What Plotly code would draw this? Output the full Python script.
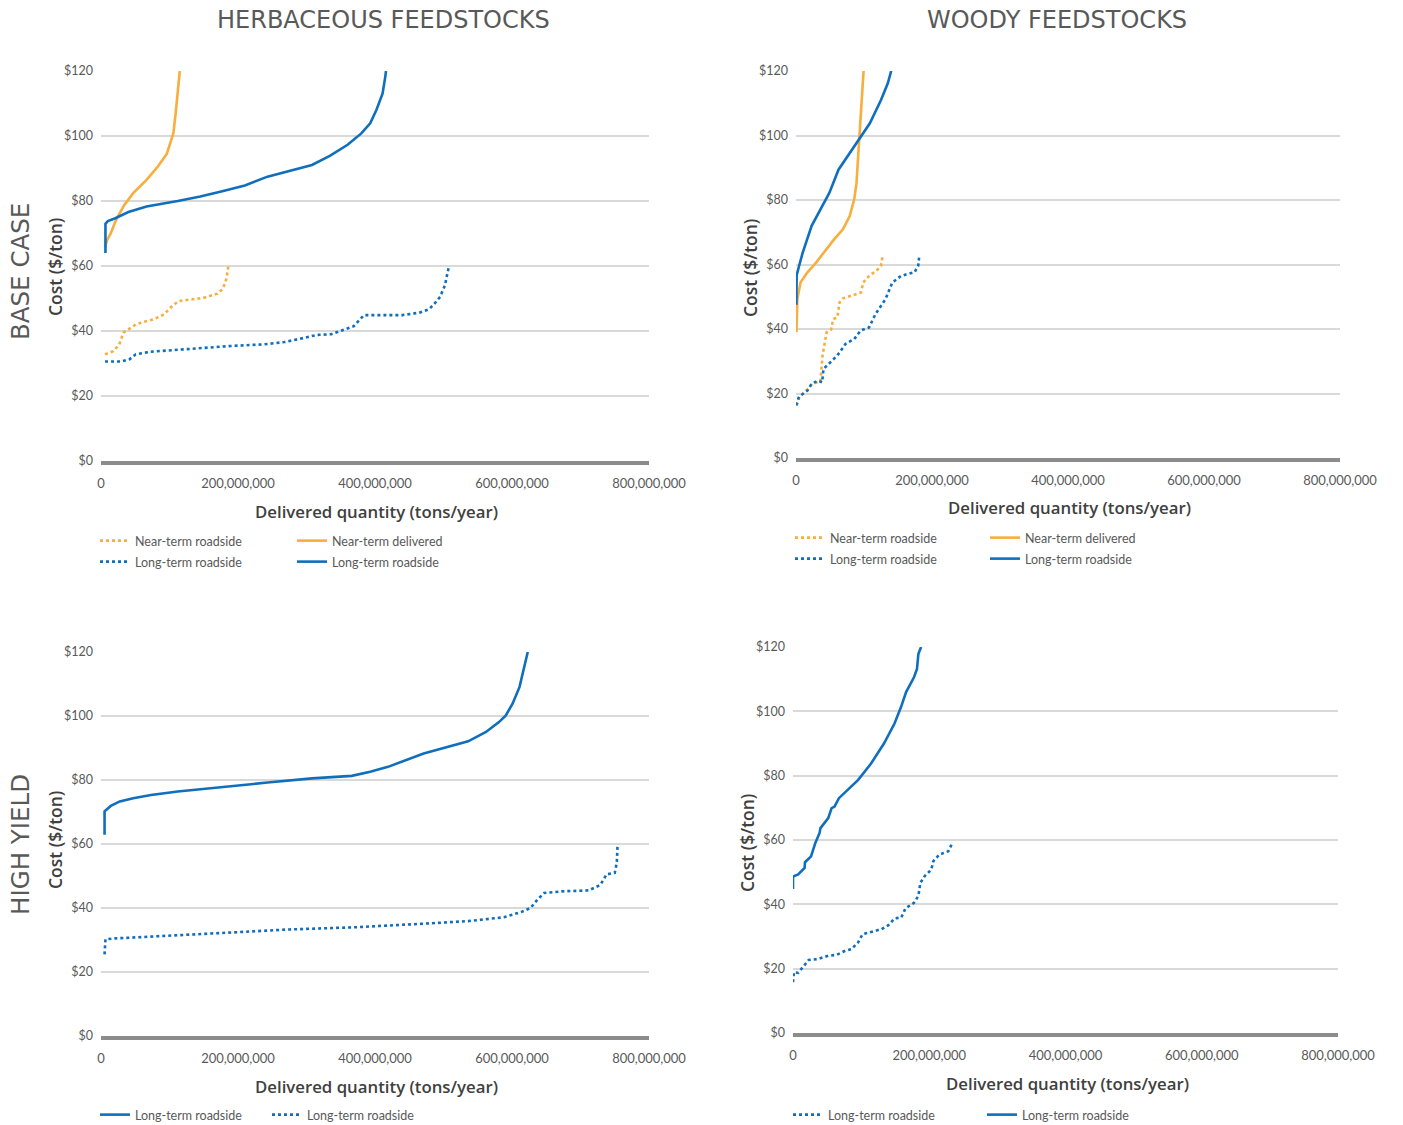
import plotly.graph_objects as go

# ---------------- DATA (quantities in million tons/year, cost in $/ton) ----------------
# Herbaceous - base case
hb_near_deliv_q = [5.8, 9, 14.3, 22, 34, 47, 66.5, 83, 96, 105.6, 109, 112, 115]
hb_near_deliv_c = [65.8, 68, 70.1, 74.2, 78.8, 82.4, 86.5, 90.6, 94.5, 100.8, 107, 114.2, 120]

hb_long_deliv_q = [6.5, 6.5, 10, 20.9, 40, 66.5, 112, 145, 177, 210, 243, 275, 308, 334, 360, 380, 393, 402, 411, 415, 416]
hb_long_deliv_c = [64, 73, 73.8, 74.7, 76.6, 78.3, 80, 81.4, 83, 84.8, 87.5, 89.3, 91.1, 93.9, 97.3, 100.8, 103.9, 108, 113, 118.2, 120]

hb_near_road_q = [5.9, 17.8, 26.8, 32.7, 38.7, 50.6, 62.5, 77, 92, 104, 113, 131, 150, 170, 178, 183, 186]
hb_near_road_c = [32.8, 33.8, 35.9, 39.5, 40.3, 42, 42.8, 43.6, 45.1, 47.7, 49.2, 49.7, 50.2, 51.5, 53, 56, 60]

hb_long_road_q = [5.9, 29.7, 41.6, 50.6, 71, 113, 149, 190, 238, 268, 297, 315, 336, 351, 369, 384, 404, 440, 464, 479, 488, 495, 502, 508]
hb_long_road_c = [30.6, 30.6, 31.3, 32.8, 33.6, 34.2, 34.9, 35.4, 35.9, 36.6, 37.9, 38.8, 39, 40.2, 41.5, 44.9, 44.9, 44.9, 45.6, 46.7, 48.7, 50.5, 54, 60]

# Woody - base case
wb_near_deliv_q = [0.6, 1, 2, 6.6, 16.5, 29.6, 42.8, 56, 69, 79, 85.6, 89, 92, 95.5, 99.4]
wb_near_deliv_c = [39, 45, 49.3, 54.4, 57.5, 60.6, 64.2, 67.8, 70.9, 75, 80.2, 85.3, 95.6, 105.9, 120]

wb_long_deliv_q = [0.5, 1, 4.6, 9.9, 23, 36, 49, 62.5, 75.7, 92, 108.6, 125, 135, 140]
wb_long_deliv_c = [47.5, 56.7, 59.6, 63.7, 72, 77, 82.2, 89.4, 93.6, 98.7, 103.8, 111, 116.2, 120]

wb_near_road_q = [0.6, 5, 17.4, 23.6, 36, 39, 45, 51.6, 54.7, 60.9, 64, 69, 95.5, 98.8, 108.6, 118, 125, 127]
wb_near_road_c = [16.3, 18.9, 21.4, 23, 23.7, 31.8, 39, 39.8, 43.1, 43.6, 48.2, 49.5, 51.3, 54.4, 56.7, 58, 59.6, 62.2]

wb_long_road_q = [0.6, 4.3, 16.8, 23, 32.3, 38.5, 40.4, 51, 60.9, 73, 85.7, 95, 107.5, 116.8, 129, 131.7, 141.6, 154.7, 174.4, 179.7, 181]
wb_long_road_c = [16.3, 19, 20.9, 23, 24, 23.5, 27.6, 29.7, 31.8, 35.4, 36.9, 39.5, 40.5, 44.6, 48.8, 49.3, 54.4, 56.5, 57.6, 59.6, 62.2]

# Herbaceous - high yield
hh_long_deliv_q = [5.2, 5.2, 14.3, 27.4, 47, 73, 112, 177, 243, 308, 366, 393, 419, 471, 536, 562, 581, 591, 601, 611, 617, 623]
hh_long_deliv_c = [62.9, 70.2, 71.9, 73.3, 74.3, 75.3, 76.4, 77.9, 79.2, 80.5, 81.3, 82.6, 84.1, 88.3, 92.1, 95, 98.1, 100.2, 103.9, 109.1, 114.3, 120]

hh_long_road_q = [5.2, 6.5, 21, 79.5, 177, 275, 373, 471, 536, 588, 614, 627, 637, 647, 673, 712, 729, 738, 750, 753, 754]
hh_long_road_c = [25.5, 30.2, 30.5, 31.2, 32.2, 33.3, 34, 35.1, 35.9, 37.1, 38.8, 40, 42.6, 44.7, 45.2, 45.5, 47.2, 50.5, 51, 54.1, 59.3]

# Woody - high yield
wh_long_deliv_q = [0, 0, 7.6, 17, 17.6, 26.5, 32.8, 39, 40.3, 51.7, 56.7, 61, 67.4, 80, 95.7, 114.6, 133.5, 149, 158.7, 166, 177.6, 182, 184, 188]
wh_long_deliv_c = [44.8, 48.6, 49.3, 51.3, 53.1, 54.9, 59.1, 62.2, 63.7, 66.8, 69.9, 70.4, 73, 75.6, 78.7, 83.8, 90, 96.2, 101.4, 106, 110.6, 113.2, 117.8, 120]

wh_long_road_q = [0, 1.3, 7.6, 17, 23, 36, 51.7, 64, 77, 86, 95.7, 102, 114.6, 130, 140, 149, 159, 165, 177.6, 184, 187, 193.4, 203, 206, 215, 228, 234]
wh_long_road_c = [15.8, 18.9, 18.7, 21.2, 22.7, 23, 24, 24.3, 25.6, 26.1, 28.2, 30.7, 31.5, 32.3, 33.5, 35.6, 35.9, 38.7, 40.5, 42.6, 46.7, 48.8, 50.8, 53.4, 55.5, 56.5, 59.1]

y_tickvals = [0, 20, 40, 60, 80, 100, 120]
y_ticktext = ["$0", "$20", "$40", "$60", "$80", "$100", "$120"]
x_tickvals = [0, 200e6, 400e6, 600e6, 800e6]
x_ticktext = ["0", "200,000,000", "400,000,000", "600,000,000", "800,000,000"]

col_titles = ["HERBACEOUS FEEDSTOCKS", "WOODY FEEDSTOCKS"]
row_titles = ["BASE CASE", "HIGH YIELD"]
x_title = "Delivered quantity (tons/year)"
y_title = "Cost ($/ton)"

# ---------------- STYLE ----------------
W, H = 1403, 1125
ORANGE = "#F8AE3C"
BLUE = "#0F6FBE"
GRID = "#D9D9D9"
AXIS = "#8C8C8C"
TXT = "#595959"
DARK = "#404040"
FONT = "Lato, Roboto, sans-serif"
TFONT = "'Open Sans', Lato, sans-serif"
HFONT = "'DejaVu Sans', 'Open Sans', sans-serif"


def px(xp):
    return xp / W


def py(yp):
    return 1 - yp / H


def mq(vals):
    return [v * 1e6 for v in vals]


fig = go.Figure()

# panel geometry (pixels in the final page): left, right, top, bottom
panels = {
    1: (101, 649, 71, 461),
    2: (796, 1340, 71, 458),
    3: (101, 649, 652, 1036),
    4: (793, 1338, 647, 1033),
}


def add(panel, q, c, color, dash, name, legend):
    sfx = "" if panel == 1 else str(panel)
    fig.add_trace(go.Scatter(
        x=mq(q), y=c, mode="lines", name=name,
        line=dict(color=color, width=2.6, dash=dash),
        xaxis="x" + sfx, yaxis="y" + sfx, legend=legend, hoverinfo="skip"))


add(1, hb_near_road_q, hb_near_road_c, ORANGE, "dot", "Near-term roadside", "legend")
add(1, hb_near_deliv_q, hb_near_deliv_c, ORANGE, "solid", "Near-term delivered", "legend")
add(1, hb_long_road_q, hb_long_road_c, BLUE, "dot", "Long-term roadside", "legend2")
add(1, hb_long_deliv_q, hb_long_deliv_c, BLUE, "solid", "Long-term roadside", "legend2")

add(2, wb_near_road_q, wb_near_road_c, ORANGE, "dot", "Near-term roadside", "legend3")
add(2, wb_near_deliv_q, wb_near_deliv_c, ORANGE, "solid", "Near-term delivered", "legend3")
add(2, wb_long_road_q, wb_long_road_c, BLUE, "dot", "Long-term roadside", "legend4")
add(2, wb_long_deliv_q, wb_long_deliv_c, BLUE, "solid", "Long-term roadside", "legend4")

add(3, hh_long_deliv_q, hh_long_deliv_c, BLUE, "solid", "Long-term roadside", "legend5")
add(3, hh_long_road_q, hh_long_road_c, BLUE, "dot", "Long-term roadside", "legend5")

add(4, wh_long_road_q, wh_long_road_c, BLUE, "dot", "Long-term roadside", "legend6")
add(4, wh_long_deliv_q, wh_long_deliv_c, BLUE, "solid", "Long-term roadside", "legend6")

layout = dict(
    width=W, height=H,
    margin=dict(l=0, r=0, t=0, b=0, autoexpand=False),
    paper_bgcolor="white", plot_bgcolor="white",
    font=dict(family=FONT, color=TXT, size=12),
    showlegend=True,
)

for p, (l, r, t, b) in panels.items():
    sfx = "" if p == 1 else str(p)
    layout["xaxis" + sfx] = dict(
        domain=[px(l), px(r)], range=[0, 800e6], anchor="y" + sfx, automargin=False,
        tickvals=x_tickvals, ticktext=x_ticktext, showgrid=False, zeroline=False,
        showline=True, linecolor=AXIS, linewidth=4, ticks="",
        ticklabelstandoff=7, tickfont=dict(size=13, color=TXT, family=FONT),
        fixedrange=True)
    layout["yaxis" + sfx] = dict(
        domain=[py(b), py(t)], range=[0, 120], anchor="x" + sfx, automargin=False,
        tickvals=y_tickvals, ticktext=y_ticktext, showgrid=True, gridcolor=GRID, gridwidth=1.5,
        zeroline=False, showline=False, ticks="", ticklabelstandoff=7,
        tickfont=dict(size=12.5, color=TXT, family=FONT), fixedrange=True)

leg_common = dict(orientation="h", xanchor="left", yanchor="middle",
                  font=dict(size=12.5, color=TXT, family=FONT), bgcolor="rgba(0,0,0,0)",
                  itemwidth=30, entrywidthmode="pixels", tracegroupgap=0, itemclick=False)
layout["legend"] = dict(leg_common, x=px(95), y=py(541), entrywidth=152)
layout["legend2"] = dict(leg_common, x=px(95), y=py(562), entrywidth=152)
layout["legend3"] = dict(leg_common, x=px(790), y=py(538), entrywidth=150)
layout["legend4"] = dict(leg_common, x=px(790), y=py(559), entrywidth=150)
layout["legend5"] = dict(leg_common, x=px(95), y=py(1115), entrywidth=127)
layout["legend6"] = dict(leg_common, x=px(788), y=py(1115), entrywidth=149)

fig.update_layout(**layout)

ann = []
# column titles
for txt, xc in [(col_titles[0], 383), (col_titles[1], 1057)]:
    ann.append(dict(x=px(xc), y=py(20), text=txt, xref="paper", yref="paper",
                    showarrow=False, xanchor="center", yanchor="middle",
                    font=dict(size=24, color=TXT, family=HFONT)))
# row titles
for txt, yc in [(row_titles[0], 272), (row_titles[1], 845)]:
    ann.append(dict(x=px(20), y=py(yc), text=txt, textangle=-90, xref="paper", yref="paper",
                    showarrow=False, xanchor="center", yanchor="middle",
                    font=dict(size=24.5, color=TXT, family=HFONT)))
# axis titles
for (xc, yc) in [(376, 511), (1069, 508), (376, 1086), (1067, 1083)]:
    ann.append(dict(x=px(xc), y=py(yc), text=x_title, xref="paper", yref="paper",
                    showarrow=False, xanchor="center", yanchor="middle",
                    font=dict(size=16.8, color=DARK, family=TFONT, weight=600)))
for (xc, yc) in [(55, 267), (750, 268), (55, 840), (747, 843)]:
    ann.append(dict(x=px(xc), y=py(yc), text=y_title, textangle=-90, xref="paper", yref="paper",
                    showarrow=False, xanchor="center", yanchor="middle",
                    font=dict(size=17.5, color=DARK, family=TFONT, weight=600)))

fig.update_layout(annotations=ann)
fig.write_html("out.html", config={"displayModeBar": False},
               post_script="document.body.style.margin='0px';document.body.style.overflow='hidden';")
